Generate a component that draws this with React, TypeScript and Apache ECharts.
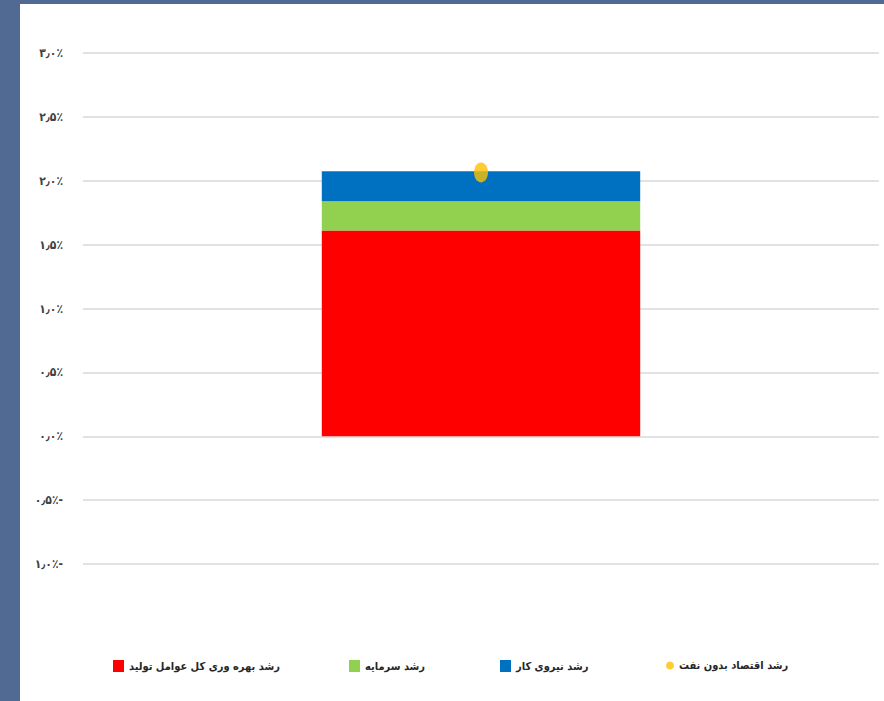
import React, { useEffect, useRef } from 'react';
import * as echarts from 'echarts';

const categories = [''];
const seriesNames = [
  'رشد بهره وری کل عوامل تولید',
  'رشد سرمایه',
  'رشد نیروی کار',
  'رشد اقتصاد بدون نفت',
];
const tfpGrowth = [1.61];
const capitalGrowth = [0.23];
const laborGrowth = [0.235];
const nonOilGrowth = [2.065];
const yTickValues = [-1, -0.5, 0, 0.5, 1, 1.5, 2, 2.5, 3];
const yTickLabels = ['۱٫۰٪-', '۰٫۵٪-', '۰٫۰٪', '۰٫۵٪', '۱٫۰٪', '۱٫۵٪', '۲٫۰٪', '۲٫۵٪', '۳٫۰٪'];

const colors = ['#ff0000', '#92d050', '#0070c0', '#ffc000'];
const FONT = '"DejaVu Sans Condensed", "DejaVu Sans"';

export default function App() {
  const ref = useRef<HTMLDivElement>(null);
  useEffect(() => {
    if (!ref.current) return;
    const chart = echarts.init(ref.current, null, { renderer: 'svg' });
    const legendText = { color: '#262626', fontSize: 11, fontWeight: 'bold' as const, fontFamily: FONT };
    const mkLegend = (name: string, left: number, icon: string, w: number, h: number) => ({
      data: [{ name, icon }],
      left,
      top: 656,
      padding: 0,
      itemWidth: w,
      itemHeight: h,
      itemGap: 0,
      textStyle: legendText,
      selectedMode: false,
    });
    chart.setOption({
      animation: false,
      backgroundColor: '#ffffff',
      legend: [
        mkLegend(seriesNames[0], 93, 'rect', 11, 12),
        mkLegend(seriesNames[1], 329, 'rect', 11, 12),
        mkLegend(seriesNames[2], 480, 'rect', 11, 12),
        mkLegend(seriesNames[3], 646, 'circle', 8, 10),
      ],
      grid: { left: 63, right: 5, top: 49, bottom: 137 },
      xAxis: {
        type: 'category',
        data: categories,
        axisLine: { show: false },
        axisTick: { show: false },
        axisLabel: { show: false },
      },
      yAxis: {
        type: 'value',
        min: -1,
        max: 3,
        interval: 0.5,
        axisLine: { show: false },
        axisTick: { show: false },
        splitLine: { lineStyle: { color: '#d9d9d9', width: 1.5 } },
        axisLabel: {
          margin: 20,
          color: '#404040',
          fontSize: 12,
          fontWeight: 'bold',
          fontFamily: FONT,
          formatter: (v: number) => {
            const i = yTickValues.findIndex((t) => Math.abs(t - v) < 1e-6);
            return i >= 0 ? yTickLabels[i] : '';
          },
        },
      },
      series: [
        { name: seriesNames[0], type: 'bar', stack: 'g', data: tfpGrowth, barWidth: '40%', itemStyle: { color: colors[0] } },
        { name: seriesNames[1], type: 'bar', stack: 'g', data: capitalGrowth, itemStyle: { color: colors[1] } },
        { name: seriesNames[2], type: 'bar', stack: 'g', data: laborGrowth, itemStyle: { color: colors[2] } },
        {
          name: seriesNames[3],
          type: 'scatter',
          data: nonOilGrowth,
          symbol: 'circle',
          symbolSize: [14, 20],
          itemStyle: { color: colors[3] },
          z: 5,
        },
      ],
    });
    return () => chart.dispose();
  }, []);
  return (
    <div style={{ position: 'fixed', left: 0, top: 0, width: 884, height: 701, background: '#506a94' }}>
      <div ref={ref} style={{ position: 'absolute', left: 20, top: 4, width: 864, height: 697 }} />
    </div>
  );
}
